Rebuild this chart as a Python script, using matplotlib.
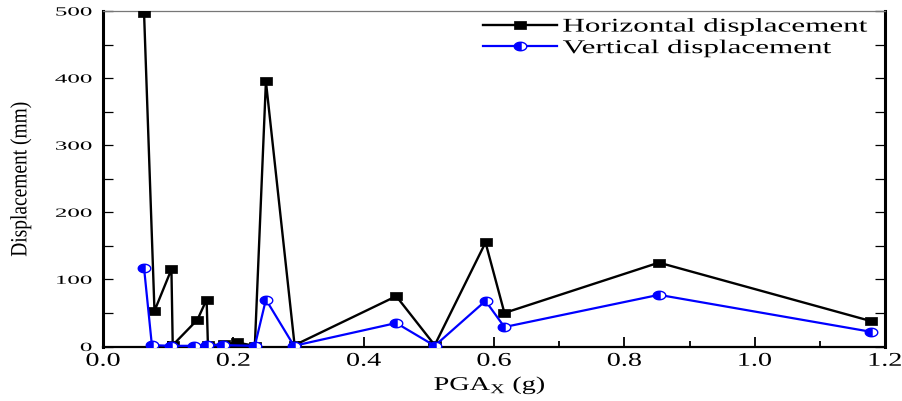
import numpy as np
import matplotlib
matplotlib.use("Agg")
import matplotlib.pyplot as plt
from matplotlib.path import Path
from matplotlib.transforms import Affine2D
from matplotlib.patheffects import AbstractPathEffect
from matplotlib.ticker import MultipleLocator, FormatStrFormatter
from matplotlib.legend_handler import HandlerTuple

# Peak ground acceleration (g) and peak displacements (mm)
horiz_pga = [0.063, 0.079, 0.105, 0.107, 0.145, 0.159, 0.161, 0.186, 0.205,
             0.233, 0.250, 0.294, 0.450, 0.509, 0.587, 0.616, 0.853, 1.178]
horiz_disp = [497, 53, 115, 2, 40, 70, 2, 3, 6,
              1, 395, 2, 75, 2, 155, 50, 125, 38]

vert_pga = [0.063, 0.075, 0.105, 0.140, 0.160, 0.184, 0.233, 0.250, 0.293,
            0.450, 0.509, 0.587, 0.616, 0.853, 1.178]
vert_disp = [117, 2, 1, 1, 2, 2, 1, 70, 1,
             35, 1, 68, 29, 77, 22]

series_labels = ["Horizontal displacement", "Vertical displacement"]
x_label = r"PGA$_\mathregular{X}$ (g)"
y_label = "Displacement (mm)"

plt.rcParams["font.family"] = "Liberation Serif"
plt.rcParams["mathtext.fontset"] = "custom"
plt.rcParams["mathtext.rm"] = "Liberation Serif"


class Stretch(AbstractPathEffect):
    """Widen glyph outlines about a chosen anchor of the text."""

    def __init__(self, sx=1.0, sy=1.0, anchor="center"):
        super().__init__()
        self.sx, self.sy, self.anchor = sx, sy, anchor

    def draw_path(self, renderer, gc, tpath, affine, rgbFace=None):
        ext = tpath.get_extents()
        if self.anchor == "left":
            cx = ext.x0
        elif self.anchor == "right":
            cx = ext.x1
        else:
            cx = 0.5 * (ext.x0 + ext.x1)
        cy = 0.5 * (ext.y0 + ext.y1)
        pre = (Affine2D().translate(-cx, -cy)
               .scale(self.sx, self.sy).translate(cx, cy))
        renderer.draw_path(gc, tpath, pre + affine, rgbFace)


# Wide rectangle marker for the horizontal series
rect = Path([(-1, -0.6), (1, -0.6), (1, 0.6), (-1, 0.6), (-1, -0.6)],
            [Path.MOVETO, Path.LINETO, Path.LINETO, Path.LINETO, Path.CLOSEPOLY])

# Elliptical, partly filled marker for the vertical series
t = np.linspace(0, 2 * np.pi, 61)
ell = Path(np.column_stack([np.cos(t), 0.68 * np.sin(t)]), closed=True)
a0 = np.arccos(0.2)
th = np.linspace(a0, 2 * np.pi - a0, 41)
part = np.column_stack([np.cos(th), 0.68 * np.sin(th)])
part = np.vstack([part, part[:1]])
half = Path(part, closed=True)

fig = plt.figure(figsize=(9.02, 4.01), dpi=100)
ax = fig.add_axes([103 / 902, 1 - 346.5 / 401, (885 - 103) / 902, (346.5 - 11) / 401])

h_line, = ax.plot(horiz_pga, horiz_disp, color="black", lw=1.7,
                  marker=rect, ms=8.5, mfc="black", mec="black", mew=0.5,
                  zorder=3)
v_line, = ax.plot(vert_pga, vert_disp, color="blue", lw=1.6,
                  marker=ell, ms=9, mfc="white", mec="blue", mew=1.0,
                  zorder=4)
v_half, = ax.plot(vert_pga, vert_disp, ls="none",
                  marker=half, ms=9, mfc="blue", mec="blue", mew=0,
                  zorder=5)

ax.set_xlim(0, 1.2)
ax.set_ylim(0, 500)

ax.xaxis.set_major_locator(MultipleLocator(0.2))
ax.xaxis.set_minor_locator(MultipleLocator(0.1))
ax.xaxis.set_major_formatter(FormatStrFormatter("%.1f"))
ax.yaxis.set_major_locator(MultipleLocator(100))
ax.yaxis.set_minor_locator(MultipleLocator(50))

ax.tick_params(axis="x", which="major", direction="in", length=7, width=1.3,
               labelsize=14, pad=4.5, top=False)
ax.tick_params(axis="x", which="minor", direction="in", length=4, width=1.3,
               top=False)
ax.tick_params(axis="y", which="both", direction="in", length=7, width=0.9,
               labelsize=9, pad=8, right=True)

ax.spines["left"].set_linewidth(2.2)
ax.spines["right"].set_linewidth(2.2)
ax.spines["bottom"].set_linewidth(1.6)
ax.spines["top"].set_linewidth(0.9)
ax.spines["top"].set_color("#777777")

for lbl in ax.get_xticklabels():
    lbl.set_path_effects([Stretch(1.45, 1.0, "center")])
for lbl in ax.get_yticklabels():
    lbl.set_path_effects([Stretch(2.0, 1.0, "right")])

xl = ax.set_xlabel(x_label, fontsize=14)
ax.xaxis.set_label_coords(0.495, -0.085)
xl.set_path_effects([Stretch(1.45, 1.0, "center")])

yl = ax.set_ylabel(y_label, fontsize=14)
ax.yaxis.set_label_coords(-0.094, 0.5)
yl.set_path_effects([Stretch(1.0, 1.2, "center")])

leg = fig.legend([h_line, (v_line, v_half)], series_labels,
                 handler_map={tuple: HandlerTuple(ndivide=1)},
                 loc="upper left", bbox_to_anchor=(483 / 902, 1 - 18 / 401),
                 frameon=False, prop={"family": "Liberation Serif", "size": 14},
                 borderpad=0, borderaxespad=0,
                 handlelength=3.8, handletextpad=0.3, labelspacing=0.2)
for txt in leg.get_texts():
    txt.set_path_effects([Stretch(1.6, 1.0, "left")])

fig.savefig("out.png", dpi=100)
